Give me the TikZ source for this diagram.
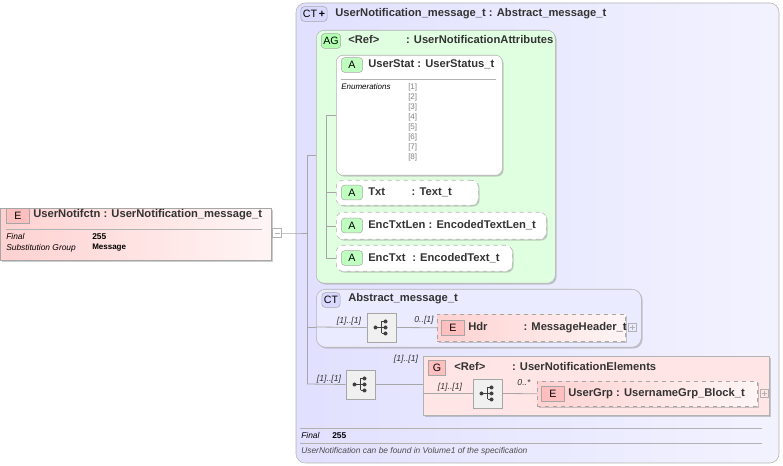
\documentclass[tikz,border=0pt]{standalone}
\usepackage{fontspec}
\setmainfont{Liberation Sans}
\usetikzlibrary{shadows,calc}
\begin{document}
\begin{tikzpicture}[x=0.75pt,y=-0.75pt,
  font=\fontsize{8}{9}\selectfont,
  conn/.style={draw=gray!70,line width=0.6pt},
  ttl/.style={anchor=west,inner sep=0pt,font=\fontsize{8.4}{9}\selectfont\bfseries,text=black!80},
  lbl/.style={inner sep=0pt,font=\fontsize{6.5}{7}\selectfont\itshape,text=black!80},
  small/.style={inner sep=0pt,anchor=west,font=\fontsize{6.3}{7}\selectfont},
  enum/.style={inner sep=0pt,anchor=west,font=\fontsize{6}{7}\selectfont,text=gray},
  seqbox/.style={draw=gray!70,fill=gray!12,line width=0.5pt,drop shadow={shadow xshift=1pt,shadow yshift=-1pt,opacity=0.4}},
  elbox/.style={draw=gray!70,left color=red!18,right color=red!4,drop shadow={shadow xshift=1pt,shadow yshift=-1pt,opacity=0.4}},
  attbox/.style={draw=gray!60,fill=white,drop shadow={shadow xshift=1pt,shadow yshift=-1pt,opacity=0.4}},
  badge/.style={draw=gray!70,rounded corners=2.5pt,inner sep=1.5pt,minimum height=11pt,font=\fontsize{8}{9}\selectfont},
]
\useasboundingbox (0,0) rectangle (783,466);
\newcommand{\seqicon}[1]{%
  \fill[black!75] ($(#1)+(-6,0)$) circle (1.5pt);
  \draw[black!75,line width=0.6pt] ($(#1)+(-6,0)$) -- ($(#1)+(0,0)$) ($(#1)+(0,-6)$) -- ($(#1)+(0,6)$)
    ($(#1)+(0,-6)$) -- ($(#1)+(4,-6)$) ($(#1)+(0,0)$) -- ($(#1)+(4,0)$) ($(#1)+(0,6)$) -- ($(#1)+(4,6)$);
  \fill[black!75] ($(#1)+(4,-6)$) circle (1.5pt) ($(#1)+(4,0)$) circle (1.5pt) ($(#1)+(4,6)$) circle (1.5pt);}
\newcommand{\plusbox}[1]{%
  \draw[gray!60,line width=0.4pt] ($(#1)+(-4,-4)$) rectangle ($(#1)+(4,4)$);
  \draw[gray!60,line width=0.4pt] ($(#1)+(-2.5,0)$) -- ($(#1)+(2.5,0)$) ($(#1)+(0,-2.5)$) -- ($(#1)+(0,2.5)$);}

% Main complex type box
\draw[draw=gray!60,left color=blue!12,right color=blue!5,rounded corners=7pt] (296,3) rectangle (779,463);
\node[badge,fill=blue!15] (ctb) at (314,14) {CT\,\textbf{+}};
\node[ttl] (ctt) at (335,14) {UserNotification\_message\_t : Abstract\_message\_t};

% left element
\node[elbox,minimum width=271*0.75pt,minimum height=52*0.75pt,anchor=north west,inner sep=0pt] (el) at (0,208) {};
\draw[gray!60] (6,229) -- (262,229);
\node[badge,fill=red!25,rounded corners=0pt,minimum width=17pt] (eb) at (18,216) {E};
\node[ttl] (elt) at (33,215) {UserNotifctn : UserNotification\_message\_t};
\node[small,font=\fontsize{6.3}{7}\selectfont\itshape] (f1) at (6,237) {Final};
\node[small,font=\fontsize{6.3}{7}\selectfont\bfseries] (f2) at (92,237) {255};
\node[small,font=\fontsize{6.3}{7}\selectfont\itshape] (s1) at (6,248) {Substitution Group};
\node[small,font=\fontsize{6}{7}\selectfont\bfseries] (s2) at (92,248) {Message};
\node[draw=gray!60,fill=white,minimum size=7pt,inner sep=0pt] (mn) at (277,233) {};
\draw[gray!60] (274.5,233) -- (279.5,233);
\coordinate (t0) at (307,233);
\draw[conn] (mn.east) -- (296,233) -- (t0);
\draw[conn] (307,155) -- (307,384);
\draw[conn] (307,155) -- (316,155);
\draw[conn] (307,327) -- (316,327);

% AG box
\node[draw=gray!60,fill=green!12,anchor=north west,minimum width=239*0.75pt,minimum height=253*0.75pt,inner sep=0pt,rounded corners=6pt,drop shadow={shadow xshift=1pt,shadow yshift=-1pt,opacity=0.4}] (ag) at (316,30) {};
\node[badge,fill=green!30] (agb) at (331,41) {AG};
\node[ttl] (agt) at (348,40) {<Ref>\hspace{20pt}: UserNotificationAttributes};
\draw[conn] (326,115) -- (326,258);
\foreach \yy in {115,192,226,258} \draw[conn] (326,\yy) -- (336,\yy);

% UserStat
\node[attbox,anchor=north west,minimum width=166*0.75pt,minimum height=120*0.75pt,inner sep=0pt,rounded corners=5pt] (us) at (336,55) {};
\draw[gray!60] (341,79) -- (496,79);
\node[badge,fill=green!25,minimum width=16pt] (usb) at (352,65) {A};
\node[ttl] (ust) at (368,64) {UserStat : UserStatus\_t};
\node[small,font=\fontsize{6}{7}\selectfont\itshape] (en) at (341,87) {Enumerations};
\foreach \i in {1,...,8} \node[enum] (e\i) at (408,77+10*\i) {[\i]};

% Txt etc
\newcommand{\attr}[6]{% name, x1,y1,x2,y2, text
  \node[attbox,dashed,anchor=north west,minimum width=#4*0.75pt-#2*0.75pt,minimum height=#5*0.75pt-#3*0.75pt,inner sep=0pt,rounded corners=5pt] (#1) at (#2,#3) {};
  \node[badge,fill=green!25,minimum width=16pt] (#1b) at (352,#3*0.5+#5*0.5) {A};
  \node[ttl] (#1t) at (368,#3*0.5+#5*0.5) {#6};}
\attr{tx}{336}{180}{478}{205}{Txt\hspace{20pt}: Text\_t}
\attr{etl}{336}{212}{546}{239}{EncTxtLen : EncodedTextLen\_t}
\attr{et}{336}{245}{512}{271}{EncTxt\hspace{5pt}: EncodedText\_t}

% Abstract_message_t
\node[draw=gray!60,fill=white!92!blue,anchor=north west,minimum width=325*0.75pt,minimum height=58*0.75pt,inner sep=0pt,rounded corners=7pt,drop shadow={shadow xshift=1pt,shadow yshift=-1pt,opacity=0.4}] (am) at (316,289) {};
\node[badge,fill=blue!15] (amb) at (331,300) {CT};
\node[ttl] (amt) at (348,299) {Abstract\_message\_t};
\node[seqbox,minimum width=29*0.75pt,minimum height=29*0.75pt,inner sep=0pt] (sq1) at (381.5,327.5) {};
\seqicon{381.5,327.5}
\draw[conn] (316,327) -- (sq1.west);
\node[lbl] (l1) at (349,321) {[1]..[1]};
\node[elbox,dashed,anchor=north west,minimum width=188*0.75pt,minimum height=27*0.75pt,inner sep=0pt] (hdr) at (437,314) {};
\node[badge,fill=red!25,rounded corners=0pt,minimum width=17pt] (hb) at (453,328) {E};
\node[ttl] (ht) at (468,327.5) {Hdr\hspace{27pt}: MessageHeader\_t};
\plusbox{632,327.5}
\draw[conn] (sq1.east) -- (hdr.west);
\node[lbl] (l2) at (424,320) {0..[1]};

% bottom sequence
\node[seqbox,minimum width=29*0.75pt,minimum height=29*0.75pt,inner sep=0pt] (sq2) at (360.5,384.5) {};
\seqicon{360.5,384.5}
\draw[conn] (307,384) -- (sq2.west);
\node[lbl] (l3) at (329,379) {[1]..[1]};
\node[draw=gray!60,fill=red!10,anchor=north west,minimum width=346*0.75pt,minimum height=59*0.75pt,inner sep=0pt,drop shadow={shadow xshift=1pt,shadow yshift=-1pt,opacity=0.4}] (g) at (423,356) {};
\draw[conn] (sq2.east) -- (g.west|-sq2.east);
\node[lbl] (l4) at (406,359) {[1]..[1]};
\node[badge,fill=red!25,rounded corners=0pt,minimum width=13pt] (gb) at (437,368) {G};
\node[ttl] (gt) at (454,367) {<Ref>\hspace{20pt}: UserNotificationElements};
\node[seqbox,minimum width=29*0.75pt,minimum height=29*0.75pt,inner sep=0pt] (sq3) at (487.5,393.5) {};
\seqicon{487.5,393.5}
\draw[conn] (423,393.5) -- (sq3.west);
\node[lbl] (l5) at (450,387) {[1]..[1]};
\node[elbox,dashed,anchor=north west,minimum width=220*0.75pt,minimum height=25*0.75pt,inner sep=0pt] (ug) at (537,381) {};
\node[badge,fill=red!25,rounded corners=0pt,minimum width=17pt] (ugb) at (553,394) {E};
\node[ttl] (ugt) at (568,393.5) {UserGrp : UsernameGrp\_Block\_t};
\plusbox{764,393.5}
\draw[conn] (sq3.east) -- (ug.west);
\node[lbl] (l6) at (524,383) {0..*};

% footer
\draw[gray!60] (300,428) -- (762,428) (300,443) -- (762,443);
\node[small,font=\fontsize{6.3}{7}\selectfont\itshape] (ff) at (301,436) {Final};
\node[small,font=\fontsize{6.3}{7}\selectfont\bfseries] (fv) at (332,436) {255};
\node[small,font=\fontsize{6.3}{7}\selectfont\itshape,text=black!70] (fd) at (301,451) {UserNotification can be found in Volume1 of the specification};
\end{tikzpicture}
\end{document}
